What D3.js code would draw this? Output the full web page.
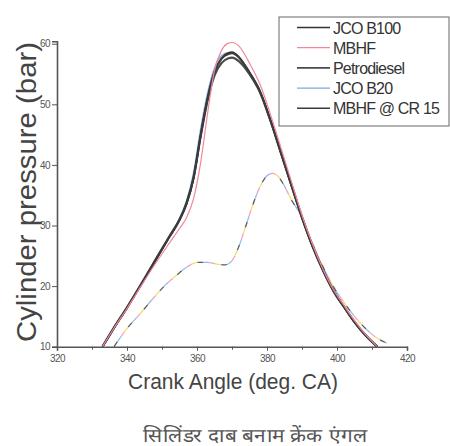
<!DOCTYPE html>
<html>
<head>
<meta charset="utf-8">
<script src="https://cdn.jsdelivr.net/npm/d3@7"></script>
<style>
  html, body { margin: 0; padding: 0; background: #fff; }
  svg { display: block; font-family: "Liberation Sans", Arial, sans-serif; }
</style>
</head>
<body>
<svg id="pressureChart" width="450" height="446"></svg>
<script>
// --- Data ---
const seriesNames = ["JCO B100", "MBHF", "Petrodiesel", "JCO B20", "MBHF @ CR 15"];
const seriesColors = ["#333333", "#f0879a", "#4a4a4a", "#7fa9e2", "#3c3c3c"];

const mainAngles = [333, 336, 340, 344, 348, 352, 355, 357, 359, 361, 363, 365, 367, 369, 370, 372, 375, 378, 381, 384, 387, 390, 393, 396, 399, 402, 405, 408, 411.5];
const jcoB100 = [10, 12.8, 16.4, 20.2, 24.1, 28, 30.9, 33.6, 37.8, 44.8, 51, 55.4, 57.6, 58.5, 58.6, 57.8, 55.3, 52.2, 47.4, 42, 36.6, 31.3, 26.6, 22.6, 19.2, 16.6, 14.1, 12, 10];
const mbhf = [10, 12.8, 16.3, 20, 23.6, 27, 29.5, 31.3, 34.4, 40.2, 48.4, 55.6, 58.9, 60.1, 60.2, 59.6, 56.8, 53.3, 48.3, 42.8, 37.2, 31.7, 26.9, 22.8, 19.4, 16.8, 14.3, 12.1, 10];
const petrodiesel = [10, 12.9, 16.5, 20.3, 24.2, 28.1, 31, 33.7, 37.9, 44.6, 50.6, 54.8, 56.8, 57.6, 57.7, 57.1, 55, 52, 47.3, 42, 36.7, 31.4, 26.7, 22.7, 19.3, 16.6, 14.1, 12, 10];
const jcoB20 = [10, 12.8, 16.4, 20.2, 24.1, 28.1, 31.1, 34, 38.6, 45.8, 51.8, 56, 58, 58.5, 58.5, 57.7, 55.2, 52.1, 47.3, 42, 36.7, 31.4, 26.7, 22.7, 19.3, 16.7, 14.2, 12.1, 10.1];
const mbhfCr15 = [10, 12.8, 16.4, 20.2, 24.1, 28, 30.9, 33.5, 37.7, 44.6, 50.9, 55.3, 57.5, 58.3, 58.4, 57.7, 55.2, 52.1, 47.3, 41.9, 36.5, 31.2, 26.5, 22.5, 19.1, 16.5, 14, 11.9, 10];

// lower (dashed, multicoloured) trace
const lowAngles = [336.3, 340, 344, 347.5, 351, 354, 357, 360, 363, 366, 368, 370, 372, 374, 376, 378, 380, 381.5, 383, 385, 387, 390, 393, 396, 399, 402, 405, 408, 411, 414.2];
const lowPressure = [10, 13, 15.6, 18, 20.2, 21.7, 23.1, 23.9, 23.9, 23.6, 23.5, 24.2, 26.6, 30, 33.5, 36.4, 38.2, 38.6, 38.2, 36.5, 34.2, 31.4, 27, 23.2, 19.9, 17.3, 15, 13.1, 11.6, 10.6];

const xTicks = [320, 340, 360, 380, 400, 420];
const xMinorTicks = [330, 350, 370, 390, 410];
const yTicks = [10, 20, 30, 40, 50, 60];

const svg = d3.select("#pressureChart");

// --- Scales ---
const x = d3.scaleLinear().domain([320, 420]).range([57, 407]);
const y = d3.scaleLinear().domain([10, 60.4]).range([346.7, 41.3]);

const line = d3.line()
  .x(d => x(d[0]))
  .y(d => y(d[1]))
  .curve(d3.curveMonotoneX);

// --- Lower dashed trace ---
const lowData = lowAngles.map((a, i) => [a, lowPressure[i]]);
const dashColors = ["#5a5a5a", "#8fc0ee", "#f3a3c2", "#f2e06a"];
dashColors.forEach((c, i) => {
  svg.append("path")
    .datum(lowData)
    .attr("fill", "none")
    .attr("stroke", c)
    .attr("stroke-width", 1.3)
    .attr("stroke-dasharray", "6 18")
    .attr("stroke-dashoffset", -i * 6)
    .attr("d", line);
});

// --- Main curves ---
const seriesValues = [jcoB100, mbhf, petrodiesel, jcoB20, mbhfCr15];
const drawOrder = [3, 2, 0, 4, 1];
const widths = [1.8, 1.2, 2.3, 1.4, 1.9];
drawOrder.forEach(k => {
  svg.append("path")
    .datum(mainAngles.map((a, i) => [a, seriesValues[k][i]]))
    .attr("fill", "none")
    .attr("stroke", seriesColors[k])
    .attr("stroke-width", widths[k])
    .attr("d", line);
});

// --- Axes ---
const xAxis = svg.append("g")
  .attr("transform", `translate(0,${y(10)})`)
  .call(d3.axisBottom(x).tickValues(xTicks).tickSize(4).tickPadding(4).tickFormat(d3.format("d")));
svg.append("g")
  .attr("transform", `translate(0,${y(10)})`)
  .call(d3.axisBottom(x).tickValues(xMinorTicks).tickSize(3).tickFormat(""))
  .select(".domain").remove();

const yAxis = svg.append("g")
  .attr("transform", `translate(${x(320)},0)`)
  .call(d3.axisLeft(y).tickValues(yTicks).tickSize(5).tickPadding(2).tickFormat(d3.format("d")));

[xAxis, yAxis].forEach(a => {
  a.select(".domain").attr("stroke", "#555").attr("stroke-width", 1.6);
  a.selectAll(".tick text")
    .attr("fill", "#555")
    .attr("font-size", 10)
    .attr("letter-spacing", -0.6);
});
svg.selectAll("g .tick line").attr("stroke", "#555");

// --- Axis Labels ---
svg.append("text")
  .attr("x", 128)
  .attr("y", 389)
  .attr("font-size", 22)
  .attr("fill", "#444")
  .attr("textLength", 210)
  .attr("lengthAdjust", "spacingAndGlyphs")
  .text("Crank Angle (deg. CA)");

svg.append("text")
  .attr("transform", "rotate(-90)")
  .attr("x", -342)
  .attr("y", 35.5)
  .attr("font-size", 27)
  .attr("fill", "#444")
  .attr("textLength", 300)
  .attr("lengthAdjust", "spacingAndGlyphs")
  .text("Cylinder pressure (bar)");

svg.append("text")
  .attr("x", 143)
  .attr("y", 442)
  .attr("font-size", 19)
  .attr("fill", "#555")
  .attr("textLength", 224)
  .attr("lengthAdjust", "spacingAndGlyphs")
  .text("सिलिंडर दाब बनाम क्रेंक एंगल");

// --- Legend ---
const legend = svg.append("g").attr("transform", "translate(279,17)");
legend.append("rect")
  .attr("width", 170)
  .attr("height", 109)
  .attr("fill", "#fff")
  .attr("stroke", "#666")
  .attr("stroke-width", 1);

const legendItems = legend.selectAll(".legend-item")
  .data(seriesNames)
  .join("g")
  .attr("class", "legend-item")
  .attr("transform", (_, i) => `translate(0,${10.5 + i * 20.2})`);

legendItems.append("line")
  .attr("x1", 18)
  .attr("x2", 51)
  .attr("stroke", (_, i) => seriesColors[i])
  .attr("stroke-width", (_, i) => i === 1 || i === 3 ? 1.2 : 1.6);

legendItems.append("text")
  .attr("x", 54)
  .attr("y", 6)
  .attr("font-size", 16)
  .attr("fill", "#333")
  .attr("letter-spacing", -0.8)
  .text(d => d);
</script>
</body>
</html>
